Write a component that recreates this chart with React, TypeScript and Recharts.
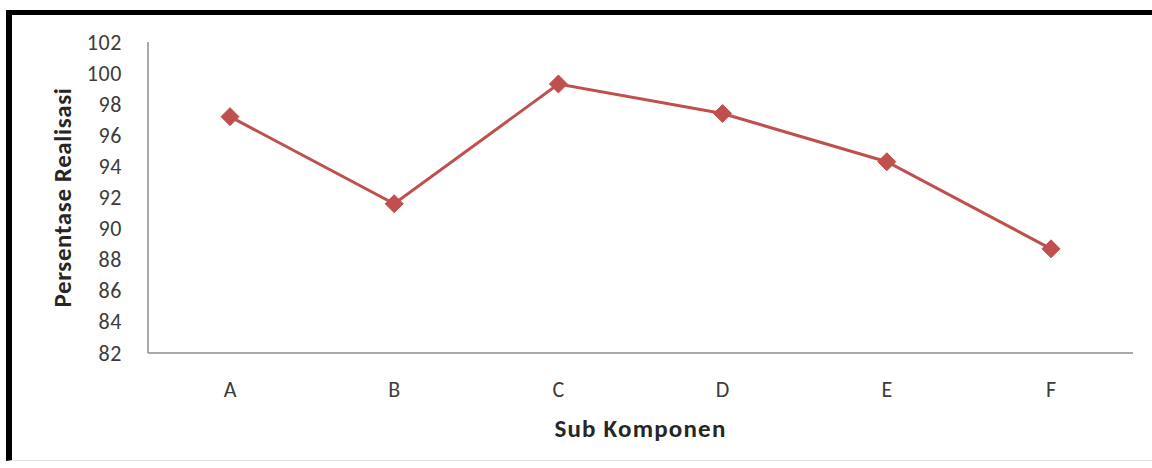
import React from "react";
import { LineChart, Line, XAxis, YAxis } from "recharts";

// Sub-component realisation percentages
const categories = ["A", "B", "C", "D", "E", "F"];
const realisasi = [97.2, 91.6, 99.3, 97.4, 94.3, 88.7];
const yTicks = [82, 84, 86, 88, 90, 92, 94, 96, 98, 100, 102];

const data = categories.map((name, i) => ({ name, value: realisasi[i] }));

const FONT = "Carlito, Calibri, Lato, 'Liberation Sans', sans-serif";
const TEXT_COLOR = "#3c3c3c";
const TITLE_COLOR = "#262626";
const LINE_COLOR = "#C0504D";

const XTick = (props: any) => {
  const { x, y, payload } = props;
  return (
    <text
      x={x}
      y={y + 36}
      textAnchor="middle"
      dominantBaseline="central"
      fontFamily={FONT}
      fontSize={22}
      fill={TEXT_COLOR}
    >
      {payload.value}
    </text>
  );
};

const YTick = (props: any) => {
  const { x, y, payload } = props;
  return (
    <text
      x={x - 26}
      y={y}
      textAnchor="end"
      dominantBaseline="central"
      fontFamily={FONT}
      fontSize={22}
      letterSpacing={0.6}
      fill={TEXT_COLOR}
    >
      {payload.value}
    </text>
  );
};

const Diamond = (props: any) => {
  const { cx, cy, index } = props;
  if (cx == null || cy == null) return null;
  const r = 9;
  return (
    <polygon
      key={`d-${index}`}
      points={`${cx},${cy - r} ${cx + r},${cy} ${cx},${cy + r} ${cx - r},${cy}`}
      fill={LINE_COLOR}
      stroke={LINE_COLOR}
      strokeWidth={1}
    />
  );
};

const XTitle = (props: any) => {
  const vb = props.viewBox;
  return (
    <text
      x={vb.x + vb.width / 2}
      y={vb.y + 75}
      textAnchor="middle"
      dominantBaseline="central"
      fontFamily={FONT}
      fontSize={25}
      letterSpacing={1.2}
      fontWeight="bold"
      fill={TITLE_COLOR}
    >
      Sub Komponen
    </text>
  );
};

const YTitle = (props: any) => {
  const vb = props.viewBox;
  const cx = 62;
  const cy = vb.y + vb.height / 2;
  return (
    <text
      x={cx}
      y={cy}
      transform={`rotate(-90, ${cx}, ${cy})`}
      textAnchor="middle"
      dominantBaseline="central"
      fontFamily={FONT}
      fontSize={25}
      letterSpacing={0.6}
      fontWeight="bold"
      fill={TITLE_COLOR}
    >
      Persentase Realisasi
    </text>
  );
};

export default function App() {
  return (
    <div
      style={{
        position: "absolute",
        left: 0,
        top: 0,
        width: 1152,
        height: 468,
        background: "#ffffff",
        overflow: "hidden",
      }}
    >
      {/* chart frame */}
      <div
        style={{
          position: "absolute",
          left: 6,
          top: 10,
          width: 1160,
          height: 451,
          borderLeft: "6px solid #000",
          borderTop: "5px solid #000",
          borderBottom: "1px solid #e2e2e2",
          boxSizing: "border-box",
        }}
      />
      <div style={{ position: "absolute", left: 0, top: 0 }}>
        <LineChart
          width={1152}
          height={468}
          data={data}
          margin={{ top: 42, right: 19, left: 0, bottom: 0 }}
        >
          <XAxis
            dataKey="name"
            height={115}
            padding={{ left: 82, right: 82 }}
            axisLine={{ stroke: "#8c8c8c", strokeWidth: 1.5 }}
            tickLine={false}
            tickSize={0}
            tickMargin={0}
            tick={<XTick />}
            interval={0}
            label={<XTitle />}
          />
          <YAxis
            width={148}
            domain={[82, 102]}
            ticks={yTicks}
            interval={0}
            axisLine={{ stroke: "#8c8c8c", strokeWidth: 1.5 }}
            tickLine={false}
            tickSize={0}
            tickMargin={0}
            tick={<YTick />}
            label={<YTitle />}
          />
          <Line
            type="linear"
            dataKey="value"
            stroke={LINE_COLOR}
            strokeWidth={3}
            dot={<Diamond />}
            activeDot={false}
            isAnimationActive={false}
          />
        </LineChart>
      </div>
    </div>
  );
}
